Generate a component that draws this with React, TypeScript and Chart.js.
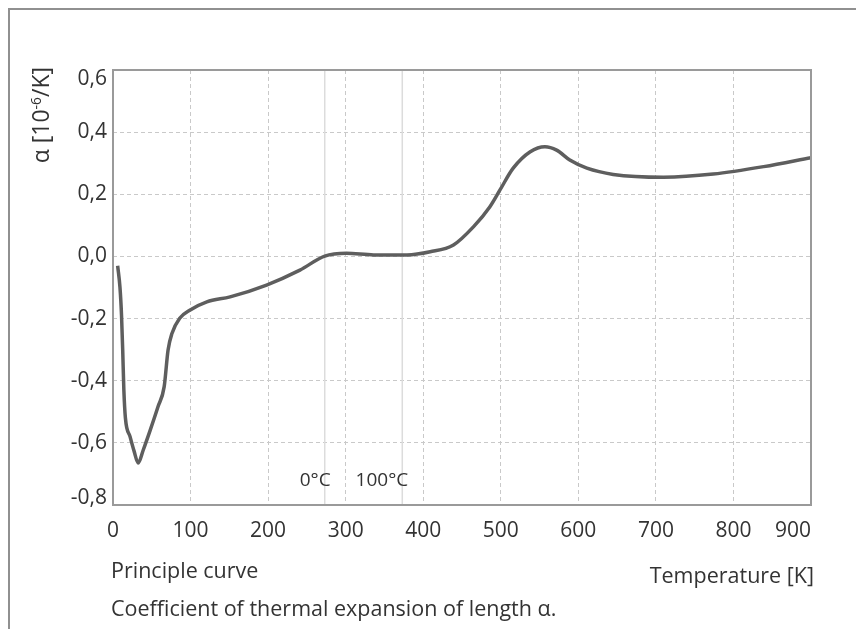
import React, { useEffect, useRef } from 'react';
import { Chart, registerables } from 'chart.js';

Chart.register(...registerables);

// Temperature [K] and coefficient of thermal expansion α [10^-6/K]
const tempK = [6, 9, 11, 12.5, 14, 16, 22, 27, 32.5, 39, 48, 58, 66, 71, 76, 86, 99, 121, 151, 198, 241, 273, 301, 336, 379, 409, 439, 465, 486, 499, 516, 538, 557, 572, 589, 611, 645, 710, 774, 839, 900];
const alpha = [-0.03, -0.1, -0.19, -0.3, -0.43, -0.52, -0.58, -0.625, -0.665, -0.623, -0.559, -0.484, -0.419, -0.301, -0.248, -0.199, -0.173, -0.146, -0.13, -0.092, -0.044, 0.001, 0.01, 0.005, 0.005, 0.015, 0.037, 0.096, 0.16, 0.214, 0.284, 0.337, 0.353, 0.342, 0.31, 0.284, 0.264, 0.255, 0.265, 0.289, 0.318];

const xTicks = [0, 100, 200, 300, 400, 500, 600, 700, 800, 900];
const xTickLabels = ['0', '100', '200', '300', '400', '500', '600', '700', '800', '900'];
const yTicks = [-0.8, -0.6, -0.4, -0.2, 0, 0.2, 0.4, 0.6];
const yTickLabels = ['-0,8', '-0,6', '-0,4', '-0,2', '0,0', '0,2', '0,4', '0,6'];

const markerTemps = [273, 373];
const markerLabels = ['0°C', '100°C'];

const FONT = '"Open Sans", sans-serif';
const TEXT = '#333333';
const TICK_SIZE = 21;
const X_PAD = 13;

const overlay = {
  id: 'overlay',
  afterDraw(chart: any) {
    const { ctx, chartArea: a, scales } = chart;
    const x = scales.x;
    const y = scales.y;
    ctx.save();
    ctx.strokeStyle = '#9a9a9a';
    ctx.lineWidth = 2;
    ctx.strokeRect(a.left, a.top, a.right - a.left, a.bottom - a.top);

    ctx.fillStyle = TEXT;
    ctx.font = `19px ${FONT}`;
    ctx.textAlign = 'right';
    ctx.textBaseline = 'alphabetic';
    markerTemps.forEach((t, i) => {
      ctx.fillText(markerLabels[i], x.getPixelForValue(t) + 6, a.bottom - 19);
    });

    ctx.font = `${TICK_SIZE}px ${FONT}`;
    ctx.textBaseline = 'middle';
    ctx.textAlign = 'right';
    const lx = xTicks.length - 1;
    ctx.fillText(xTickLabels[lx], x.getPixelForValue(xTicks[lx]), x.top + X_PAD + (TICK_SIZE * 1.2) / 2);

    const yx = a.left - 6;
    const ly = yTicks.length - 1;
    ctx.fillText(yTickLabels[ly], yx, y.getPixelForValue(yTicks[ly]) + 9);
    ctx.fillText(yTickLabels[0], yx, y.getPixelForValue(yTicks[0]) - 7);
    ctx.restore();
  },
};

export default function App() {
  const ref = useRef<HTMLCanvasElement | null>(null);

  useEffect(() => {
    if (!ref.current) return;
    const curve = tempK.map((t, i) => ({ x: t, y: alpha[i] }));
    const markers = markerTemps.map((t) => ({
      data: [
        { x: t, y: yTicks[0] },
        { x: t, y: yTicks[yTicks.length - 1] },
      ],
      borderColor: '#dcdcdc',
      borderWidth: 1.5,
      showLine: true,
      pointRadius: 0,
    }));
    const chart = new Chart(ref.current, {
      type: 'scatter',
      data: {
        datasets: [
          {
            data: curve,
            borderColor: '#5e5e5e',
            borderWidth: 3.5,
            showLine: true,
            pointRadius: 0,
            cubicInterpolationMode: 'monotone',
          } as any,
          ...markers,
        ],
      },
      options: {
        animation: false,
        responsive: false,
        devicePixelRatio: 1,
        layout: { padding: { top: 70, right: 45, left: 0, bottom: 0 } },
        plugins: { legend: { display: false }, tooltip: { enabled: false } },
        scales: {
          x: {
            type: 'linear',
            min: xTicks[0],
            max: xTicks[xTicks.length - 1],
            afterBuildTicks: (s: any) => {
              s.ticks = xTicks.map((v) => ({ value: v }));
            },
            afterFit: (s: any) => {
              s.height = 124;
            },
            ticks: {
              autoSkip: false,
              maxRotation: 0,
              padding: X_PAD,
              color: TEXT,
              font: { family: FONT, size: TICK_SIZE },
              callback: (_v: any, i: number) => (i === xTicks.length - 1 ? '' : xTickLabels[i]),
            },
            grid: { color: '#c9c9c9', lineWidth: 1, drawTicks: false },
            border: { display: false, dash: [4, 3] },
          },
          y: {
            type: 'linear',
            min: yTicks[0],
            max: yTicks[yTicks.length - 1],
            afterBuildTicks: (s: any) => {
              s.ticks = yTicks.map((v) => ({ value: v }));
            },
            afterFit: (s: any) => {
              s.width = 113;
            },
            ticks: {
              autoSkip: false,
              padding: 6,
              color: TEXT,
              font: { family: FONT, size: TICK_SIZE },
              callback: (_v: any, i: number) => (i === 0 || i === yTicks.length - 1 ? '' : yTickLabels[i]),
            },
            grid: { color: '#c9c9c9', lineWidth: 1, drawTicks: false },
            border: { display: false, dash: [4, 3] },
          },
        },
      },
      plugins: [overlay],
    });
    return () => chart.destroy();
  }, []);

  const cap: React.CSSProperties = {
    position: 'absolute',
    fontFamily: FONT,
    fontSize: 21.5,
    lineHeight: '22px',
    color: TEXT,
    whiteSpace: 'nowrap',
  };

  return (
    <div style={{ position: 'fixed', left: 0, top: 0, width: 856, height: 629, overflow: 'hidden', background: '#fff' }}>
      <canvas ref={ref} width={856} height={629} style={{ display: 'block', position: 'absolute', left: 0, top: 0 }} />
      <div style={{ position: 'absolute', left: 8, top: 8, width: 1000, height: 1000, borderLeft: '2px solid #909090', borderTop: '2px solid #909090' }} />
      <div
        style={{
          ...cap,
          fontSize: 23,
          lineHeight: '23px',
          left: 29,
          top: 187,
          width: 120,
          textAlign: 'right',
          transformOrigin: 'left top',
          transform: 'rotate(-90deg)',
        }}
      >
        α [10<span style={{ fontSize: '0.6em', position: 'relative', top: '-0.6em' }}>-6</span>/K]
      </div>
      <div style={{ ...cap, left: 111, top: 558.5 }}>Principle curve</div>
      <div style={{ ...cap, right: 42, top: 563.5 }}>Temperature [K]</div>
      <div style={{ ...cap, left: 111, top: 597 }}>Coefficient of thermal expansion of length α.</div>
    </div>
  );
}
